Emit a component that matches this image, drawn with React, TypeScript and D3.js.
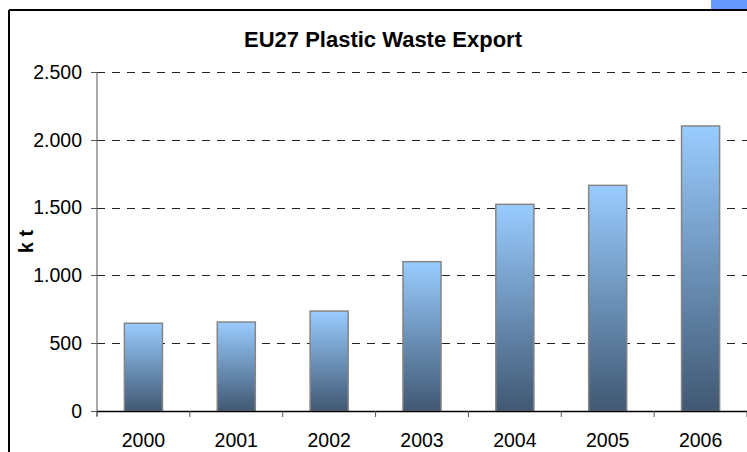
import React from "react";
import * as d3 from "d3";

const years = ["2000", "2001", "2002", "2003", "2004", "2005", "2006"];
const exportKt = [647, 656, 737, 1101, 1524, 1664, 2102];
const yTicks = [0, 500, 1000, 1500, 2000, 2500];
const title = "EU27 Plastic Waste Export";
const yLabel = "k t";

const W = 747;
const H = 452;
const left = 97;
const right = 747;
const top = 72;
const bottom = 411;

const fmt = (v: number) => d3.format(",")(v).replace(/,/g, ".");

export default function App() {
  const x = d3
    .scaleBand<string>()
    .domain(years)
    .range([left, right])
    .paddingInner(0.59)
    .paddingOuter(0.295);
  const y = d3.scaleLinear().domain([0, 2500]).range([bottom, top]);
  const step = x.step();
  const font = "Arial, 'Liberation Sans', sans-serif";

  return (
    <svg
      width={W}
      height={H}
      style={{ position: "absolute", left: 0, top: 0 }}
      fontFamily={font}
    >
      <defs>
        <linearGradient id="barGrad" x1="0" y1="0" x2="0" y2="1">
          <stop offset="0" stopColor="#99CCFF" />
          <stop offset="1" stopColor="#405873" />
        </linearGradient>
      </defs>
      <rect x={0} y={0} width={W} height={H} fill="#fff" />
      {/* outer frame */}
      <rect x={711} y={0} width={36} height={10} fill="#6699FF" />
      <line x1={9} y1={10} x2={W} y2={10} stroke="#000" strokeWidth={2} />
      <line x1={9} y1={10} x2={9} y2={H} stroke="#000" strokeWidth={2} />

      <text
        x={383}
        y={47}
        textAnchor="middle"
        fontWeight="bold"
        fontSize={22}
        fill="#000"
      >
        {title}
      </text>

      {/* gridlines */}
      {yTicks
        .filter((t) => t > 0)
        .map((t) => (
          <line
            key={"g" + t}
            x1={left}
            x2={right}
            y1={Math.round(y(t)) + 0.5}
            y2={Math.round(y(t)) + 0.5}
            stroke="#222"
            strokeWidth={1}
            strokeDasharray="8,7"
          />
        ))}

      {/* bars */}
      {years.map((yr, i) => (
        <rect
          key={yr}
          x={x(yr)!}
          y={y(exportKt[i])}
          width={x.bandwidth()}
          height={bottom - y(exportKt[i])}
          fill="url(#barGrad)"
          stroke="#858585"
          strokeWidth={1.5}
        />
      ))}

      {/* y axis */}
      <line x1={left} x2={left} y1={top} y2={bottom + 5} stroke="#555" strokeWidth={1} />
      {yTicks.map((t) => (
        <g key={"t" + t}>
          <line
            x1={left - 6}
            x2={left}
            y1={Math.round(y(t)) + 0.5}
            y2={Math.round(y(t)) + 0.5}
            stroke="#555"
          />
          <text
            x={82}
            y={y(t)}
            dy="0.35em"
            textAnchor="end"
            fontSize={19.5}
            fill="#000"
          >
            {fmt(t)}
          </text>
        </g>
      ))}

      {/* x axis */}
      <line x1={left} x2={right} y1={bottom + 0.5} y2={bottom + 0.5} stroke="#000" strokeWidth={1.3} />
      {d3.range(years.length + 1).map((i) => (
        <line
          key={"xt" + i}
          x1={left + i * step}
          x2={left + i * step}
          y1={bottom}
          y2={bottom + 6}
          stroke="#555"
        />
      ))}
      {years.map((yr) => (
        <text
          key={"xl" + yr}
          x={x(yr)! + x.bandwidth() / 2}
          y={446.5}
          textAnchor="middle"
          fontSize={19.5}
          fill="#000"
        >
          {yr}
        </text>
      ))}

      <text
        transform={`translate(33, ${(top + bottom) / 2}) rotate(-90)`}
        textAnchor="middle"
        fontWeight="bold"
        fontSize={19.5}
        fill="#000"
      >
        {yLabel}
      </text>
    </svg>
  );
}
